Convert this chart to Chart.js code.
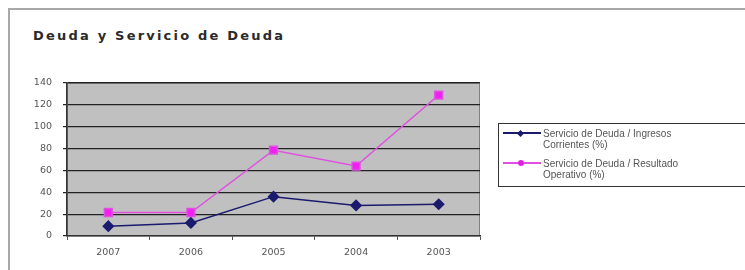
<!DOCTYPE html>
<html>
<head>
<meta charset="utf-8">
<script src="https://cdn.jsdelivr.net/npm/chart.js@4.4.0/dist/chart.umd.min.js"></script>
<style>
  html, body { margin: 0; padding: 0; background: #fff; }
  #wrap { position: relative; width: 745px; height: 270px; overflow: hidden; }
  #frame { position: absolute; left: 8px; top: 8px; width: 760px; height: 300px;
           border-left: 2px solid #a8a8a8; border-top: 2px solid #a8a8a8; }
  #title { position: absolute; left: 33px; top: 28px; font-family: "DejaVu Sans", sans-serif;
           font-size: 13px; font-weight: bold; letter-spacing: 2.2px; color: #2a2a2a; }
  #chart { position: absolute; left: 0; top: 0; }
  #legend { position: absolute; left: 498px; top: 123px; width: 250px; height: 62px;
            border: 1px solid #333; font-family: "Liberation Sans", Arial, sans-serif;
            font-size: 10px; color: #555; line-height: 11px; }
  .item { position: absolute; left: 44px; }
  .sample { position: absolute; left: -40px; top: 4px; width: 38px; height: 2px; }
  .dot { position: absolute; left: 15px; top: -2px; width: 6px; height: 6px; }
</style>
</head>
<body>
<div id="wrap">
  <div id="frame"></div>
  <div id="title">Deuda y Servicio de Deuda</div>
  <canvas id="chart" width="745" height="270"></canvas>
  <div id="legend">
    <div class="item" style="top:4px">
      <div class="sample" style="background:#1a1a6e"><div class="dot" style="background:#1a1a6e;transform:rotate(45deg);width:5px;height:5px;top:-1.5px"></div></div>
      Servicio de Deuda / Ingresos<br>Corrientes (%)
    </div>
    <div class="item" style="top:34px">
      <div class="sample" style="background:#e050e0"><div class="dot" style="background:#e020e0;border-radius:3px"></div></div>
      Servicio de Deuda / Resultado<br>Operativo (%)
    </div>
  </div>
</div>
<script>
const years = ['2007', '2006', '2005', '2004', '2003'];
const servicioIngresos = [9, 12, 36, 28, 29];
const servicioResultado = [21.5, 21.5, 78.5, 64, 129];

const plotBackground = {
  id: 'plotBackground',
  beforeDraw(chart) {
    const { ctx, chartArea: a } = chart;
    ctx.save();
    ctx.fillStyle = '#c0c0c0';
    ctx.fillRect(a.left, a.top, a.right - a.left, a.bottom - a.top);
    ctx.strokeStyle = '#808080';
    ctx.lineWidth = 1;
    ctx.strokeRect(a.left + 0.5, a.top + 0.5, a.right - a.left - 1, a.bottom - a.top - 1);
    ctx.restore();
  }
};

new Chart(document.getElementById('chart').getContext('2d'), {
  type: 'line',
  data: {
    labels: years,
    datasets: [
      {
        label: 'Servicio de Deuda / Ingresos Corrientes (%)',
        data: servicioIngresos,
        borderColor: '#1a1a6e',
        backgroundColor: '#1a1a6e',
        borderWidth: 1.5,
        pointStyle: 'rectRot',
        pointRadius: 5,
        tension: 0
      },
      {
        label: 'Servicio de Deuda / Resultado Operativo (%)',
        data: servicioResultado,
        borderColor: '#e050e0',
        backgroundColor: '#f020f0',
        borderWidth: 1.5,
        pointStyle: 'rect',
        pointRadius: 5.5,
        tension: 0
      }
    ]
  },
  options: {
    responsive: false,
    animation: false,
    layout: { padding: { left: 30, right: 265, top: 83, bottom: 13 } },
    plugins: {
      legend: { display: false },
      title: { display: false },
      tooltip: { enabled: false }
    },
    scales: {
      x: {
        offset: true,
        afterFit(scale) { scale.height = 21; },
        grid: { offset: true, drawOnChartArea: false, drawTicks: true, tickLength: 4, color: '#555' },
        border: { color: '#333', width: 1.5 },
        ticks: { color: '#555', padding: 7, font: { family: 'DejaVu Sans', size: 9.5 } }
      },
      y: {
        min: 0,
        max: 140,
        afterFit(scale) { scale.width = 37; },
        ticks: { stepSize: 20, color: '#555', padding: 11, font: { family: 'DejaVu Sans', size: 9.5 } },
        grid: { color: '#222', lineWidth: 1.2, tickLength: 4 },
        border: { color: '#333', width: 1.5 }
      }
    }
  },
  plugins: [plotBackground]
});
</script>
</body>
</html>
